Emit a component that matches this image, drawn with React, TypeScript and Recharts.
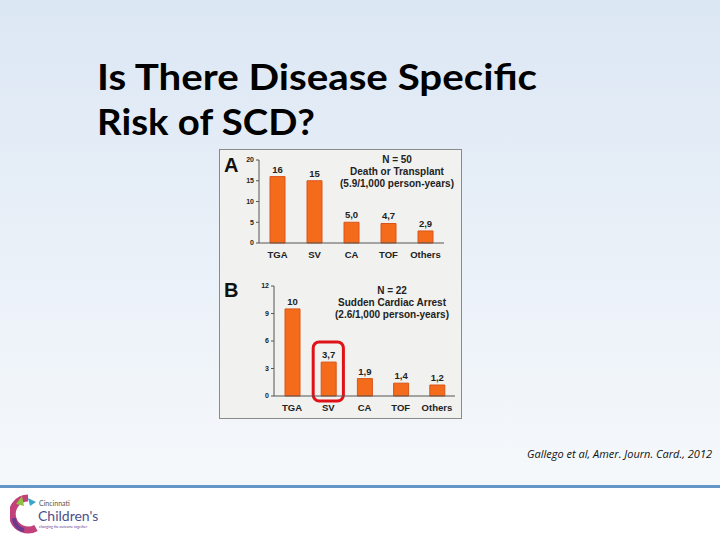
import { BarChart, Bar, XAxis, YAxis, LabelList, ReferenceArea } from 'recharts';

// Panel A: death or transplant (per diagnosis)
const categories = ['TGA', 'SV', 'CA', 'TOF', 'Others'];
const deathValues = [16, 15, 5.0, 4.7, 2.9];
const deathLabels = ['16', '15', '5,0', '4,7', '2,9'];
const deathTicks = [0, 5, 10, 15, 20];

// Panel B: sudden cardiac arrest
const scaValues = [9.5, 3.7, 1.9, 1.4, 1.2];
const scaLabels = ['10', '3,7', '1,9', '1,4', '1,2'];
const scaTicks = [0, 3, 6, 9, 12];

const ORANGE = '#f46b1c';
const CHART_FONT = '"Liberation Sans", Arial, sans-serif';

const panelA = categories.map((name, i) => ({ name, value: deathValues[i], label: deathLabels[i] }));
const panelB = categories.map((name, i) => ({ name, value: scaValues[i], label: scaLabels[i] }));

const tickStyle = { fontSize: 7, fontWeight: 700, fill: '#222', fontFamily: CHART_FONT };
const catStyle = { fontSize: 9.5, fontWeight: 700, fill: '#222', fontFamily: CHART_FONT };
const valueStyle = { fontSize: 9.5, fontWeight: 700, fill: '#222', fontFamily: CHART_FONT };

function PanelNote({ left, top, lines }: { left: number; top: number; lines: string[] }) {
  return (
    <div
      style={{
        position: 'absolute',
        left,
        top,
        width: 140,
        textAlign: 'center',
        fontFamily: CHART_FONT,
        fontWeight: 700,
        fontSize: 10,
        lineHeight: '12px',
        color: '#222',
      }}
    >
      {lines.map((l) => (
        <div key={l}>{l}</div>
      ))}
    </div>
  );
}

function Logo() {
  const txt = { position: 'absolute' as const, fontFamily: 'Lato, sans-serif', lineHeight: 1, whiteSpace: 'nowrap' as const };
  return (
    <div style={{ position: 'absolute', left: 10, top: 494, width: 110, height: 42 }}>
      <svg width={30} height={40} style={{ position: 'absolute', left: 0, top: 0 }}>
        <path d="M18 4 A16 16 0 1 0 26 34" fill="none" stroke="#c2417a" strokeWidth={7} />
        <path d="M6 10 L12 2 L14 12 Z" fill="#8cc43f" />
        <path d="M18 4 L26 8 L20 12 Z" fill="#3aa6c9" />
        <path d="M4 24 A12 12 0 0 0 14 36" fill="none" stroke="#6a3b8f" strokeWidth={4} />
      </svg>
      <div style={{ ...txt, left: 29, top: 6, fontSize: 7, color: '#555' }}>Cincinnati</div>
      <div style={{ ...txt, left: 28, top: 15, fontSize: 14, color: '#4b4f8c' }}>Children's</div>
      <div style={{ ...txt, left: 29, top: 32, fontSize: 3.5, color: '#6a3b8f' }}>changing the outcome together</div>
    </div>
  );
}

export default function App() {
  return (
    <div
      style={{
        position: 'absolute',
        left: 0,
        top: 0,
        width: 720,
        height: 540,
        overflow: 'hidden',
        background: 'linear-gradient(180deg, #dce7f4 0%, #e9f0f8 45%, #f5f8fb 88%)',
      }}
    >
      {/* title */}
      <svg width={720} height={150} style={{ position: 'absolute', left: 0, top: 0 }}>
        <text x={97} y={90} fontFamily="Lato, sans-serif" fontWeight={700} fontSize={36} fill="#000" textLength={440} lengthAdjust="spacingAndGlyphs">
          Is There Disease Specific
        </text>
        <text x={97} y={135} fontFamily="Lato, sans-serif" fontWeight={700} fontSize={36} fill="#000" textLength={218} lengthAdjust="spacingAndGlyphs">
          Risk of SCD?
        </text>
      </svg>

      {/* figure */}
      <div
        style={{
          position: 'absolute',
          left: 219,
          top: 149,
          width: 243,
          height: 270,
          background: '#f1f1ef',
          border: '1px solid #8a8a8a',
          boxSizing: 'border-box',
        }}
      />
      <div style={{ position: 'absolute', left: 219, top: 149 }}>
        <BarChart width={244} height={120} data={panelA} margin={{ top: 11, right: 19, bottom: 6, left: 20 }} barCategoryGap={0}>
          <XAxis dataKey="name" tick={catStyle} tickLine={false} axisLine={{ stroke: '#555' }} interval={0} height={20} />
          <YAxis domain={[0, 20]} ticks={deathTicks} tick={tickStyle} width={20} axisLine={{ stroke: '#555' }} tickLine={{ stroke: '#555' }} tickSize={3} />
          <Bar dataKey="value" fill={ORANGE} stroke="#d9561a" barSize={15} isAnimationActive={false}>
            <LabelList dataKey="label" position="top" offset={4} style={valueStyle} />
          </Bar>
        </BarChart>
      </div>
      <div style={{ position: 'absolute', left: 219, top: 269 }}>
        <BarChart width={244} height={150} data={panelB} margin={{ top: 17, right: 8, bottom: 3, left: 35 }} barCategoryGap={0}>
          <XAxis dataKey="name" tick={catStyle} tickLine={false} axisLine={{ stroke: '#555' }} interval={0} height={20} />
          <YAxis domain={[0, 12]} ticks={scaTicks} tick={tickStyle} width={20} axisLine={{ stroke: '#555' }} tickLine={{ stroke: '#555' }} tickSize={3} />
          <Bar dataKey="value" fill={ORANGE} stroke="#d9561a" barSize={15} isAnimationActive={false}>
            <LabelList dataKey="label" position="top" offset={4} style={valueStyle} />
          </Bar>
          <ReferenceArea
            x1="SV"
            x2="SV"
            y1={-0.55}
            y2={5.9}
            ifOverflow="visible"
            shape={(p: any) => (
              <rect x={p.x + 3} y={p.y} width={p.width - 6} height={p.height} rx={6} fill="none" stroke="#e01218" strokeWidth={3} />
            )}
          />
        </BarChart>
      </div>
      <div style={{ position: 'absolute', left: 224, top: 154, fontFamily: CHART_FONT, fontWeight: 700, fontSize: 20, color: '#111' }}>A</div>
      <div style={{ position: 'absolute', left: 224, top: 279, fontFamily: CHART_FONT, fontWeight: 700, fontSize: 20, color: '#111' }}>B</div>
      <PanelNote left={327} top={154} lines={['N = 50', 'Death or Transplant', '(5.9/1,000 person-years)']} />
      <PanelNote left={322} top={285} lines={['N = 22', 'Sudden Cardiac Arrest', '(2.6/1,000 person-years)']} />

      {/* citation */}
      <div
        style={{
          position: 'absolute',
          right: 8,
          top: 446,
          fontFamily: '"Open Sans", sans-serif',
          fontStyle: 'italic',
          fontSize: 11,
          color: '#111',
          whiteSpace: 'nowrap',
        }}
      >
        Gallego et al, Amer. Journ. Card., 2012
      </div>

      {/* footer */}
      <div style={{ position: 'absolute', left: 0, top: 488, width: 720, height: 52, background: '#fff' }} />
      <div style={{ position: 'absolute', left: 0, top: 485, width: 720, height: 3, background: '#6496c8' }} />
      <Logo />
    </div>
  );
}
